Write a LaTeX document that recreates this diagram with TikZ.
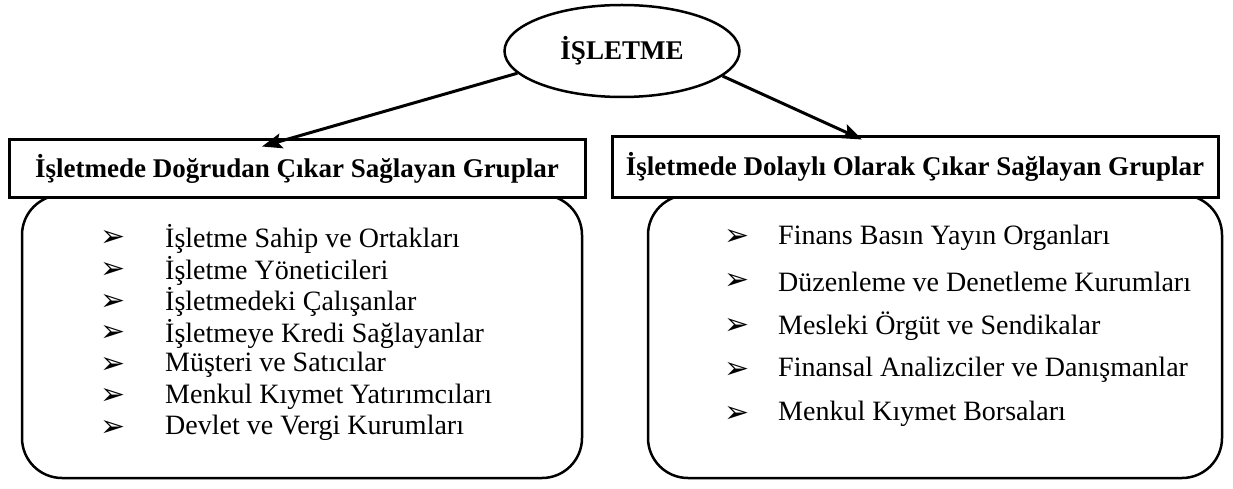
\documentclass[tikz,border=0pt]{standalone}
\usepackage{fontspec}
\setmainfont{Liberation Serif}
\newfontfamily\symfont{DejaVu Sans}
\usetikzlibrary{shapes.geometric,arrows.meta,positioning}

\begin{document}
\begin{tikzpicture}[x=1pt,y=-1pt,
  top/.style={draw,line width=2.5pt,ellipse,minimum width=235,minimum height=92,
              font=\fontsize{27}{31}\selectfont\bfseries},
  head/.style={draw,line width=3pt,fill=white,minimum height=57,
               font=\fontsize{27}{31}\selectfont\bfseries},
  group/.style={draw,line width=2.5pt,rounded corners=40pt,minimum height=283},
  item/.style={anchor=west,inner sep=0pt,font=\fontsize{28}{31}\selectfont},
  bul/.style={inner sep=0pt,font=\symfont\fontsize{30}{32}\selectfont},
  arr/.style={line width=3pt,-{Stealth[length=20pt,width=15pt,inset=4pt]}},
]
\useasboundingbox (0,0) rectangle (1233,489);
\node[top] (isletme) at (622,51) {İŞLETME};
\node[group,minimum width=560] (leftlist) at (302,336.5) {};
\node[group,minimum width=574] (rightlist) at (935,336.5) {};
\node[head,minimum width=576] (lefthead) at (297,168.5) {İşletmede Doğrudan Çıkar Sağlayan Gruplar};
\node[head,minimum width=606,minimum height=60] (righthead) at (915,167) {İşletmede Dolaylı Olarak Çıkar Sağlayan Gruplar};
\draw[arr] (isletme.192) -- ([xshift=-35,yshift=-8]lefthead.north);
\draw[arr] (isletme.-14) -- ([xshift=-53,yshift=-4]righthead.north);
% direct groups
\foreach \txt [count=\i] in {İşletme Sahip ve Ortakları,İşletme Yöneticileri,
    İşletmedeki Çalışanlar,İşletmeye Kredi Sağlayanlar,Müşteri ve Satıcılar,
    Menkul Kıymet Yatırımcıları,Devlet ve Vergi Kurumları}{
  \node[bul] (lb\i) at (113,207.5+31.5*\i) {➢};
  \node[item] (li\i) at (165,207.5+31.5*\i) {\txt};
}
% indirect groups
\foreach \txt [count=\i] in {Finans Basın Yayın Organları,Düzenleme ve Denetleme Kurumları,
    Mesleki Örgüt ve Sendikalar,Finansal Analizciler ve Danışmanlar,
    Menkul Kıymet Borsaları}{
  \node[bul] (rb\i) at (737,194+44*\i) {➢};
  \node[item] (ri\i) at (778,194+44*\i) {\txt};
}
\end{tikzpicture}
\end{document}
